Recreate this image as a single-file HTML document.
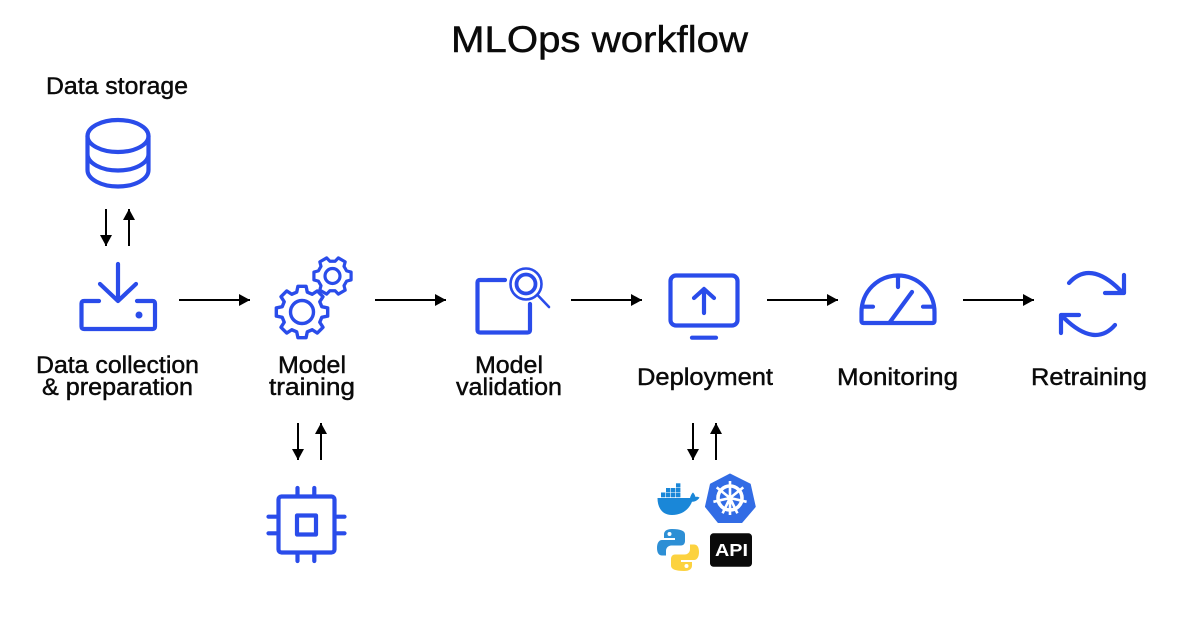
<!DOCTYPE html>
<html><head><meta charset="utf-8"><style>
html,body{margin:0;padding:0;background:#fff}
svg{display:block}
text{font-family:"Liberation Sans",sans-serif;fill:#0a0a0a;stroke:#0a0a0a;stroke-width:.45}
.i{fill:none;stroke:#2a4cea;stroke-width:4.200;stroke-linecap:round;stroke-linejoin:round}
.a{stroke:#000;stroke-width:2;fill:none}
</style></head><body>
<svg width="1200" height="630" viewBox="0 0 1200 630" xmlns="http://www.w3.org/2000/svg">
<defs>
<marker id="h" markerUnits="userSpaceOnUse" markerWidth="12" markerHeight="13" refX="11" refY="6.5" orient="auto"><path d="M0 0.5L11 6.5L0 12.500Z" fill="#000"/></marker>
</defs>
<rect width="1200" height="630" fill="#fff"/>
<text x="451" y="52" font-size="37" textLength="297" lengthAdjust="spacingAndGlyphs">MLOps workflow</text>
<g font-size="24">
<text x="46" y="94" textLength="142" lengthAdjust="spacingAndGlyphs">Data storage</text>
<text x="36" y="373" textLength="163" lengthAdjust="spacingAndGlyphs">Data collection</text>
<text x="42" y="395" textLength="151" lengthAdjust="spacingAndGlyphs">&amp; preparation</text>
<text x="278" y="373" textLength="68" lengthAdjust="spacingAndGlyphs">Model</text>
<text x="269" y="395" textLength="86" lengthAdjust="spacingAndGlyphs">training</text>
<text x="475" y="373" textLength="68" lengthAdjust="spacingAndGlyphs">Model</text>
<text x="456" y="395" textLength="106" lengthAdjust="spacingAndGlyphs">validation</text>
<text x="637" y="385" textLength="136" lengthAdjust="spacingAndGlyphs">Deployment</text>
<text x="837" y="385" textLength="121" lengthAdjust="spacingAndGlyphs">Monitoring</text>
<text x="1031" y="385" textLength="116" lengthAdjust="spacingAndGlyphs">Retraining</text>
</g>
<g class="a">
<path d="M106 209V246" marker-end="url(#h)"/>
<path d="M129 246V209" marker-end="url(#h)"/>
<path d="M298 423V460" marker-end="url(#h)"/>
<path d="M321 460V423" marker-end="url(#h)"/>
<path d="M693 423V460" marker-end="url(#h)"/>
<path d="M716 460V423" marker-end="url(#h)"/>
<path d="M179 300H250" marker-end="url(#h)"/>
<path d="M375 300H446" marker-end="url(#h)"/>
<path d="M571 300H642" marker-end="url(#h)"/>
<path d="M767 300H838" marker-end="url(#h)"/>
<path d="M963 300H1034" marker-end="url(#h)"/>
</g>
<g class="i">
<ellipse cx="118" cy="136" rx="30.500" ry="16"/>
<path d="M87.500 136V170A30.500 16.500 0 0 0 148.500 170V136M87.500 154A30.500 16.500 0 0 0 148.500 154"/>
<path d="M99 301H84Q81.500 301 81.500 303.500V326.500Q81.500 329 84 329H152.500Q155 329 155 326.500V303.500Q155 301 152.500 301H137M118 264V301M100 284L118 301L136 284"/>
<g transform="translate(302 312)" style="stroke-width:3.400">
<polygon points="19.8,-5.31 25.68,-4.07 25.68,4.07 19.8,5.31 17.75,10.25 21.03,15.28 15.28,21.03 10.25,17.75 5.31,19.8 4.07,25.68 -4.07,25.68 -5.31,19.8 -10.25,17.75 -15.28,21.03 -21.03,15.28 -17.75,10.25 -19.8,5.31 -25.68,4.07 -25.68,-4.07 -19.8,-5.31 -17.75,-10.25 -21.03,-15.28 -15.28,-21.03 -10.25,-17.75 -5.31,-19.8 -4.07,-25.68 4.07,-25.68 5.31,-19.8 10.25,-17.75 15.28,-21.03 21.03,-15.28 17.75,-10.25"/>
<circle r="11.500"/>
</g>
<g transform="translate(332.500 276)" style="stroke-width:3.200">
<polygon fill="#fff" points="14.1,-5.13 18.58,-3.95 18.58,3.95 14.1,5.13 11.49,9.64 12.71,14.12 5.87,18.07 2.6,14.77 -2.6,14.77 -5.87,18.07 -12.71,14.12 -11.49,9.64 -14.1,5.13 -18.58,3.95 -18.58,-3.95 -14.1,-5.13 -11.49,-9.64 -12.71,-14.12 -5.87,-18.07 -2.6,-14.77 2.6,-14.77 5.87,-18.07 12.71,-14.12 11.49,-9.64"/>
<circle r="7.500"/>
</g>
<path d="M505 280H480Q477.500 280 477.500 282.500V330Q477.500 332.500 480 332.500H527.500Q530 332.500 530 330V304"/>
<circle cx="526" cy="284" r="15.500" style="stroke-width:2.600"/>
<circle cx="526" cy="284" r="9.500" style="stroke-width:3.800"/>
<path d="M538 295.500L549 307" style="stroke-width:2.600"/>
<rect x="670.500" y="275.500" width="67" height="50" rx="5.500"/>
<path d="M704 313V289M694 298L704 289L714 298"/>
<path d="M692 337.700H716"/>
<path d="M861.500 312A36.500 36.500 0 0 1 934.500 312V321Q934.500 323 932.500 323H863.500Q861.500 323 861.500 321ZM898 276V287M862 306.700H873M923 306.700H934M890 322L912 292"/>
<path d="M1069 283Q1090 260 1120 290M1124 275V293H1105M1115 325Q1095 348 1064 318M1061 333V315H1079"/>
<rect x="278.500" y="496.500" width="56" height="56" rx="3"/>
<rect x="297" y="515.500" width="19" height="19"/>
<path d="M297.500 488V495M314.300 488V495M297.500 554V561M314.300 554V561M268.500 516.700H276M268.500 533.300H276M337 516.700H344.500M337 533.300H344.500"/>
</g>
<circle cx="139" cy="315" r="3.500" fill="#2a4cea"/>
<g fill="#1a87d8">
<path d="M657.500 498H690C691 494 693 492.500 693 492.500C694.500 494 695 495.500 695.500 497C697 496.500 698.500 497 699.500 497.500C697.500 501 694 501.800 692 501.800C689 509.500 682 515 672 515C662 515 657.500 507.500 657.500 498Z"/>
<rect x="661" y="492.500" width="4.400" height="4.800"/><rect x="666" y="492.500" width="4.400" height="4.800"/><rect x="671" y="492.500" width="4.400" height="4.800"/><rect x="676" y="492.500" width="4.400" height="4.800"/>
<rect x="666" y="488" width="4.400" height="4"/><rect x="671" y="488" width="4.400" height="4"/><rect x="676" y="488" width="4.400" height="4"/>
<rect x="676" y="483.300" width="4.400" height="4.200"/>
</g>
<polygon points="730,474.300 750,484.300 755,506.700 741.700,522.300 718.300,522.300 705.700,506.700 710.700,484.300" fill="#326ce5" stroke="#326ce5" stroke-width="1.500" stroke-linejoin="round"/>
<g stroke="#fff" fill="none">
<circle cx="730" cy="498" r="12" stroke-width="3.600"/>
<path stroke-width="2.600" d="M730 481V515M730 498L743.300 487.400M730 498L746.600 501.800M730 498L737.400 513.300M730 498L722.600 513.300M730 498L713.400 501.800M730 498L716.700 487.400"/>
</g>
<circle cx="730" cy="498" r="3" fill="#fff"/>
<path fill="#2d8fd5" d="M672 529C666 529 664 531.500 664 534.500V538H675V540H662C659 540 657 543 657 548C657 553 659 555.500 662 555.500H666V551C666 548 668 545.500 671.500 545.500H681C683.500 545.500 685 543.500 685 541V534.500C685 531 681 529 672 529Z"/>
<circle cx="669.500" cy="534" r="2" fill="#fff"/>
<path fill="#fcd23f" d="M684 571C690 571 692 568.500 692 565.500V562H681V560H694C697 560 699 557 699 552C699 547 697 544.500 694 544.500H690V549C690 552 688 554.500 684.500 554.500H675C672.500 554.500 671 556.500 671 559V565.500C671 569 675 571 684 571Z"/>
<circle cx="686.500" cy="566" r="2" fill="#fff"/>
<rect x="710" y="533.300" width="42" height="33.500" rx="3.500" fill="#0a0a0a"/>
<text x="715" y="556" font-size="17.500" font-weight="bold" textLength="33" lengthAdjust="spacingAndGlyphs" style="fill:#fff;stroke:none">API</text>
</svg>
</body></html>
